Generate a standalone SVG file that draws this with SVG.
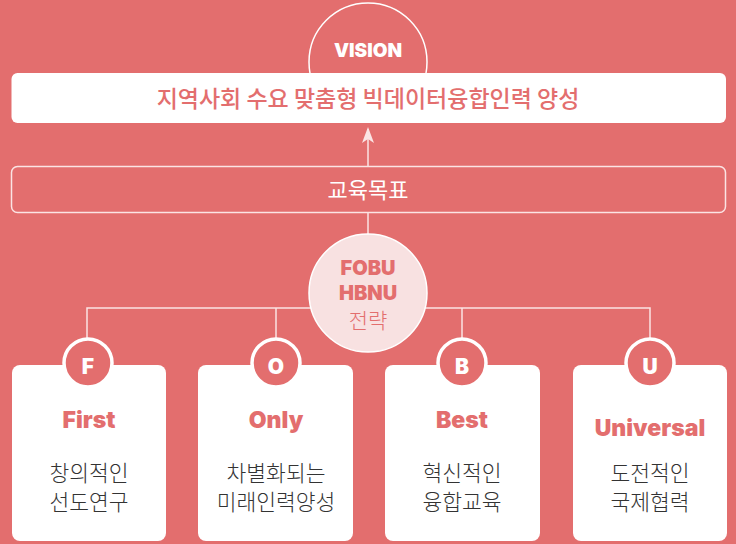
<svg xmlns="http://www.w3.org/2000/svg" width="736" height="544" viewBox="0 0 736 544">
<defs>
<style>
.bg{fill:#E36E6E}
.line{stroke:#FBE4E4;stroke-width:1.5;fill:none}
.lat{font-family:Inter,"Noto Sans","Liberation Sans",sans-serif;font-weight:900;text-anchor:middle}
.kr{font-family:"Noto Sans CJK KR","Noto Sans",sans-serif;text-anchor:middle}
.card{fill:#FFFFFF}
.letter{fill:#E36E6E;stroke:#FFFFFF;stroke-width:3.5}
.title{fill:#E36E6E;font-size:23px}
.desc{fill:#333333;font-size:21.5px;font-weight:300}
</style>
<marker id="arrow" viewBox="0 0 16 12" refX="14" refY="6" markerWidth="16" markerHeight="12" markerUnits="userSpaceOnUse" orient="auto">
<path d="M16,6 L0,0 L4,6 L0,12 Z" fill="#FBE4E4"/>
</marker>
</defs>
<rect class="bg" x="0" y="0" width="736" height="544"/>

<g id="connectors">
<line class="line" x1="368" y1="166" x2="368" y2="129" marker-end="url(#arrow)"/>
<line class="line" x1="368" y1="213" x2="368" y2="234"/>
<polyline class="line" points="87,340 87,308 650,308 650,340"/>
<line class="line" x1="276" y1="308" x2="276" y2="340"/>
<line class="line" x1="462" y1="308" x2="462" y2="340"/>
</g>

<g id="vision">
<circle cx="368" cy="62" r="59" fill="#E36E6E" stroke="#FFFFFF" stroke-width="1.5"/>
<text class="lat" x="368" y="57" font-size="19" fill="#FFFFFF">VISION</text>
</g>

<g id="vision-box">
<rect x="11.5" y="73" width="714.5" height="50" rx="6" fill="#FFFFFF"/>
<text class="kr" x="368" y="107" font-size="23" font-weight="500" fill="#E36E6E">지역사회 수요 맞춤형 빅데이터융합인력 양성</text>
</g>

<g id="goal">
<rect x="11.5" y="166.5" width="714" height="46" rx="6" fill="none" stroke="#FBE4E4" stroke-width="1.5"/>
<text class="kr" x="368" y="198" font-size="22" font-weight="400" fill="#FFFFFF">교육목표</text>
</g>

<g id="strategy">
<circle cx="368" cy="293" r="59" fill="#F8E1E1" stroke="#FFFFFF" stroke-width="1.5"/>
<text class="lat" x="368" y="275" font-size="20" fill="#E36E6E">FOBU</text>
<text class="lat" x="368" y="300" font-size="20" fill="#E36E6E">HBNU</text>
<text class="kr" x="368" y="328" font-size="21" font-weight="300" fill="#E36E6E">전략</text>
</g>

<g id="card-f">
<rect class="card" x="12" y="365" width="154" height="176" rx="8"/>
<circle class="letter" cx="88" cy="363" r="24"/>
<text class="lat" x="88" y="374" font-size="21" fill="#FFFFFF">F</text>
<text class="lat title" x="89" y="428">First</text>
<text class="kr desc" x="89" y="481">창의적인</text>
<text class="kr desc" x="89" y="510">선도연구</text>
</g>

<g id="card-o">
<rect class="card" x="198" y="365" width="155" height="176" rx="8"/>
<circle class="letter" cx="276" cy="363" r="24"/>
<text class="lat" x="276" y="374" font-size="21" fill="#FFFFFF">O</text>
<text class="lat title" x="276" y="428">Only</text>
<text class="kr desc" x="276" y="481">차별화되는</text>
<text class="kr desc" x="276" y="510">미래인력양성</text>
</g>

<g id="card-b">
<rect class="card" x="385" y="365" width="155" height="176" rx="8"/>
<circle class="letter" cx="462" cy="363" r="24"/>
<text class="lat" x="462" y="374" font-size="21" fill="#FFFFFF">B</text>
<text class="lat title" x="462" y="428">Best</text>
<text class="kr desc" x="462" y="481">혁신적인</text>
<text class="kr desc" x="462" y="510">융합교육</text>
</g>

<g id="card-u">
<rect class="card" x="573" y="365" width="154" height="176" rx="8"/>
<circle class="letter" cx="650" cy="363" r="24"/>
<text class="lat" x="650" y="374" font-size="21" fill="#FFFFFF">U</text>
<text class="lat title" x="650" y="436">Universal</text>
<text class="kr desc" x="650" y="481">도전적인</text>
<text class="kr desc" x="650" y="510">국제협력</text>
</g>
</svg>
